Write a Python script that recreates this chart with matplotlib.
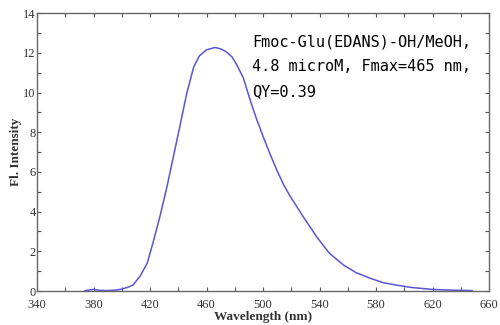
import matplotlib
matplotlib.use("Agg")
import matplotlib.pyplot as plt
from matplotlib.ticker import MultipleLocator

# emission spectrum
wavelength = [374, 380, 385, 390, 395, 399, 404, 408, 413, 418, 422, 427, 432,
              436.5, 441, 446, 451, 455, 460, 466, 470, 474, 478, 481, 486, 491,
              495, 500, 505, 510, 515, 519, 528.5, 538, 547, 557, 566, 576, 585,
              595, 605, 620, 635, 648]
intensity = [0.02, 0.08, 0.03, 0.02, 0.04, 0.08, 0.18, 0.30, 0.75, 1.4, 2.4, 3.75, 5.25,
             6.75, 8.25, 9.95, 11.3, 11.85, 12.15, 12.27, 12.2, 12.05, 11.8, 11.45, 10.75, 9.6,
             8.75, 7.8, 6.9, 6.05, 5.3, 4.8, 3.74, 2.73, 1.9, 1.31, 0.92, 0.64, 0.42,
             0.29, 0.18, 0.08, 0.04, 0.02]

xticks = [340, 380, 420, 460, 500, 540, 580, 620, 660]
note = ["Fmoc-Glu(EDANS)-OH/MeOH,", "4.8 microM, Fmax=465 nm,", "QY=0.39"]

fig = plt.figure(figsize=(5, 3.25), dpi=100)
ax = fig.add_axes([0.074, 0.1046, 0.904, 0.855])

ax.plot(wavelength, intensity, color="#5a55d2", lw=1.1)

ax.set_xlim(340, 660)
ax.set_ylim(0, 14)
ax.set_xticks(xticks)
ax.xaxis.set_minor_locator(MultipleLocator(20))
ax.yaxis.set_major_locator(MultipleLocator(2))
ax.yaxis.set_minor_locator(MultipleLocator(1))
ax.tick_params(which="both", direction="in", top=True, right=True,
               length=3, width=0.8, color="#555555")
ax.tick_params(axis="x", pad=6, labelsize=9)
ax.tick_params(axis="y", pad=1, labelsize=9)
for lab in ax.get_xticklabels() + ax.get_yticklabels():
    lab.set_family("Liberation Serif")
    lab.set_color("#333333")
for s in ax.spines.values():
    s.set_color("#666666")
    s.set_linewidth(1.0)

ax.set_xlabel("Wavelength (nm)", family="Liberation Serif", fontsize=9.5,
              fontweight="bold", color="#333333", labelpad=0)
ax.set_ylabel("Fl. Intensity", family="Liberation Serif", fontsize=9.5,
              fontweight="bold", color="#333333", labelpad=1)

for i, line in enumerate(note):
    ax.text(0.476, 0.881 - i * 0.09, line, transform=ax.transAxes,
            family="DejaVu Sans Mono", fontsize=11, color="black")

fig.savefig("out.png", dpi=100)
